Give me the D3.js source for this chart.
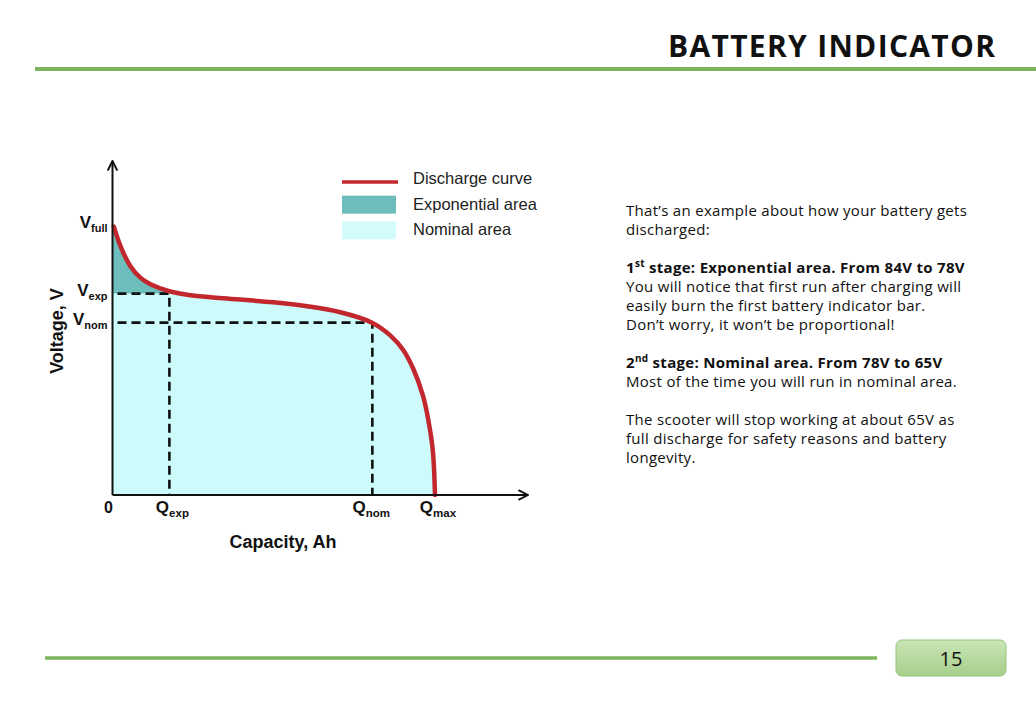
<!DOCTYPE html>
<html>
<head>
<meta charset="utf-8">
<script src="https://cdn.jsdelivr.net/npm/d3@7"></script>
<style>
  body { margin: 0; background: #fff; }
  svg { display: block; }
</style>
</head>
<body>
<div id="page"></div>
<script>
(function(){

// discharge curve (arbitrary capacity / voltage units)
var capacity = [0.04, 0.25, 0.56, 0.88, 1.19, 1.78, 2.44, 3.47, 5.03, 6.09, 7.13, 8.12, 8.69, 9.09, 9.41, 9.72, 9.88, 10.02, 10.09];
var voltage  = [8.04, 7.45, 6.85, 6.50, 6.31, 6.10, 5.98, 5.89, 5.77, 5.65, 5.47, 5.16, 4.78, 4.35, 3.78, 2.95, 2.25, 1.35, 0.00];

var qNames  = ["exp", "nom", "max"];
var qValues = [1.78, 8.13, 10.09];
var vNames  = ["full", "exp", "nom"];
var vValues = [8.04, 6.03, 5.16];

var legendLabels = ["Discharge curve", "Exponential area", "Nominal area"];

var textBlocks = [
  {bold: false, lines: ["That\u2019s an example about how your battery gets", "discharged:"]},
  {bold: true, sup: "st", num: "1", lines: [" stage: Exponential area. From 84V to 78V"]},
  {bold: false, lines: ["You will notice that first run after charging will", "easily burn the first battery indicator bar.", "Don\u2019t worry, it won\u2019t be proportional!"]},
  {bold: true, sup: "nd", num: "2", lines: [" stage: Nominal area. From 78V to 65V"]},
  {bold: false, lines: ["Most of the time you will run in nominal area."]},
  {bold: false, lines: ["The scooter will stop working at about 65V as", "full discharge for safety reasons and battery", "longevity."]}
];

var pageTitle = "BATTERY INDICATOR";
var pageNumber = "15";

var W = 1036, H = 713;
var green = "#7cb65a";
var red = "#c1272d", teal = "#6cbdbb", cyan = "#cdfbfb";

var svg = d3.select("#page")
  .append("svg")
    .attr("width", W)
    .attr("height", H);

var defs = svg.append("defs");
defs.append("marker")
    .attr("id", "arrow")
    .attr("viewBox", "0 0 10 10")
    .attr("refX", 9).attr("refY", 5)
    .attr("markerWidth", 6).attr("markerHeight", 6)
    .attr("markerUnits", "strokeWidth")
    .attr("orient", "auto")
  .append("path")
    .attr("d", "M1,1 L9,5 L1,9")
    .attr("fill", "none")
    .attr("stroke", "#111")
    .attr("stroke-width", 1.6);

var grad = defs.append("linearGradient")
    .attr("id", "boxgrad")
    .attr("x1", 0).attr("y1", 0).attr("x2", 0).attr("y2", 1);
grad.append("stop").attr("offset", "0%").attr("stop-color", "#cbe5b6");
grad.append("stop").attr("offset", "100%").attr("stop-color", "#a6cf8a");

// header
svg.append("text")
    .attr("x", 668).attr("y", 57)
    .attr("textLength", 327)
    .attr("lengthAdjust", "spacing")
    .attr("font-family", "Open Sans")
    .attr("font-weight", "bold")
    .attr("font-size", "30px")
    .attr("fill", "#111")
    .text(pageTitle);

svg.append("line")
    .attr("x1", 35).attr("x2", W)
    .attr("y1", 69).attr("y2", 69)
    .attr("stroke", green).attr("stroke-width", 4);

// footer
svg.append("line")
    .attr("x1", 45).attr("x2", 877)
    .attr("y1", 658).attr("y2", 658)
    .attr("stroke", green).attr("stroke-width", 3.5);

svg.append("rect")
    .attr("x", 896).attr("y", 640)
    .attr("width", 110).attr("height", 36)
    .attr("rx", 6)
    .attr("fill", "url(#boxgrad)")
    .attr("stroke", "#95c37a").attr("stroke-width", 1);

svg.append("text")
    .attr("x", 951).attr("y", 666)
    .attr("text-anchor", "middle")
    .attr("font-family", "Open Sans")
    .attr("font-size", "20px")
    .attr("fill", "#111")
    .text(pageNumber);

// chart
var x = d3.scaleLinear().domain([0, 13]).range([112.5, 528]);
var y = d3.scaleLinear().domain([0, 10]).range([495, 161]);

var pts = capacity.map(function(c, i){ return [c, voltage[i]]; });
var full = [[0, voltage[0]]].concat(pts);

var chart = svg.append("g");

// nominal area (everything under the curve)
chart.append("path")
    .datum(full)
    .attr("fill", cyan)
    .attr("d", d3.area()
      .x(function(d){ return x(d[0]); })
      .y0(y(0))
      .y1(function(d){ return y(d[1]); })
      .curve(d3.curveCatmullRom));

// exponential area (above V_exp, left of Q_exp)
var expPts = full.filter(function(d){ return d[0] <= qValues[0]; });
chart.append("path")
    .datum(expPts)
    .attr("fill", teal)
    .attr("d", d3.area()
      .x(function(d){ return x(d[0]); })
      .y0(y(vValues[1]))
      .y1(function(d){ return y(Math.max(d[1], vValues[1])); })
      .curve(d3.curveCatmullRom));

// dashed guides
var guides = [[qValues[0], vValues[1]], [qValues[1], vValues[2]]];
guides.forEach(function(g){
  chart.append("path")
      .attr("d", "M" + x(0) + "," + y(g[1]) + "H" + x(g[0]) + "V" + y(0))
      .attr("fill", "none")
      .attr("stroke", "#111")
      .attr("stroke-width", 2.6)
      .attr("stroke-dasharray", "9,5")
      .attr("stroke-dashoffset", -5);
});

// discharge curve
chart.append("path")
    .datum(pts)
    .attr("fill", "none")
    .attr("stroke", red)
    .attr("stroke-width", 4.5)
    .attr("stroke-linecap", "round")
    .attr("d", d3.line()
      .x(function(d){ return x(d[0]); })
      .y(function(d){ return y(d[1]); })
      .curve(d3.curveCatmullRom));

// axes with arrows
chart.append("line")
    .attr("x1", x(0)).attr("y1", y(0))
    .attr("x2", x(0)).attr("y2", y(10))
    .attr("stroke", "#111").attr("stroke-width", 2)
    .attr("marker-end", "url(#arrow)");
chart.append("line")
    .attr("x1", x(0)).attr("y1", y(0))
    .attr("x2", x(13)).attr("y2", y(0))
    .attr("stroke", "#111").attr("stroke-width", 2)
    .attr("marker-end", "url(#arrow)");

// tick labels
var labelFont = "Liberation Sans";
chart.append("text")
    .attr("x", x(0) - 4).attr("y", 513)
    .attr("text-anchor", "middle")
    .attr("font-family", labelFont).attr("font-weight", "bold")
    .attr("font-size", "16px").attr("fill", "#111")
    .text("0");

qNames.forEach(function(n, i){
  var t = chart.append("text")
      .attr("x", x(qValues[i]) + (i === 1 ? -1 : 3)).attr("y", 513)
      .attr("text-anchor", "middle")
      .attr("font-family", labelFont).attr("font-weight", "bold")
      .attr("fill", "#111");
  t.append("tspan").attr("font-size", "17px").text("Q");
  t.append("tspan").attr("font-size", "11.5px").attr("dy", 4).text(n);
});

vNames.forEach(function(n, i){
  var t = chart.append("text")
      .attr("x", x(0) - 5).attr("y", y(vValues[i]) + 2)
      .attr("text-anchor", "end")
      .attr("font-family", labelFont).attr("font-weight", "bold")
      .attr("fill", "#111");
  t.append("tspan").attr("font-size", "17px").text("V");
  t.append("tspan").attr("font-size", "11px").attr("dy", 4).text(n);
});

// axis titles
chart.append("text")
    .attr("x", 283).attr("y", 548)
    .attr("text-anchor", "middle")
    .attr("font-family", labelFont).attr("font-weight", "bold")
    .attr("font-size", "18px").attr("fill", "#111")
    .text("Capacity, Ah");

chart.append("text")
    .attr("transform", "translate(63,331) rotate(-90)")
    .attr("text-anchor", "middle")
    .attr("font-family", labelFont).attr("font-weight", "bold")
    .attr("font-size", "18px").attr("fill", "#111")
    .text("Voltage, V");

// legend
var legend = chart.append("g").attr("transform", "translate(342,170)");
var legendRow = d3.scaleBand().domain(legendLabels).range([0, 77]);
legendLabels.forEach(function(l, i){
  var g = legend.append("g").attr("transform", "translate(0," + legendRow(l) + ")");
  if (i === 0) {
    g.append("line")
        .attr("x1", 0).attr("x2", 56).attr("y1", 12).attr("y2", 12)
        .attr("stroke", red).attr("stroke-width", 3.5);
  } else {
    g.append("rect")
        .attr("x", 0).attr("y", 0)
        .attr("width", 54).attr("height", 18)
        .attr("fill", i === 1 ? teal : "#d3fbfb");
  }
  g.append("text")
      .attr("x", 71).attr("y", 14)
      .attr("font-family", labelFont)
      .attr("font-size", "16.5px").attr("fill", "#222")
      .text(l);
});

// explanatory text
var body = svg.append("text")
    .attr("font-family", "Open Sans")
    .attr("font-size", "15px")
    .attr("letter-spacing", "0.3px")
    .attr("fill", "#111");
var lineY = 216, lineH = 19;
textBlocks.forEach(function(b, bi){
  if (bi > 0 && !(textBlocks[bi - 1].bold)) lineY += lineH;
  b.lines.forEach(function(l, li){
    var t = body.append("tspan")
        .attr("x", 626).attr("y", lineY)
        .attr("font-weight", b.bold ? "bold" : "normal");
    if (b.num && li === 0) {
      t.text(b.num);
      body.append("tspan").attr("font-weight", "bold").attr("font-size", "10px").attr("dy", -6).text(b.sup);
      body.append("tspan").attr("font-weight", "bold").attr("dy", 6).text(l);
    } else {
      t.text(l);
    }
    lineY += lineH;
  });
});

})();
</script>
</body>
</html>
